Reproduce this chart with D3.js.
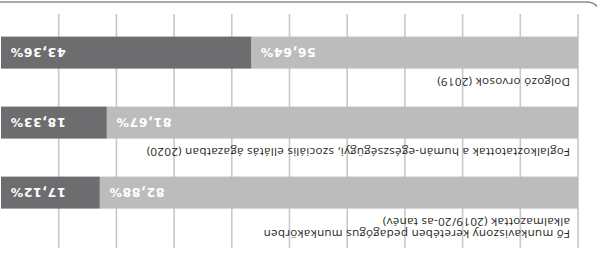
<!DOCTYPE html>
<html><head><meta charset="utf-8">
<script src="https://cdn.jsdelivr.net/npm/d3@7"></script>
<style>html,body{margin:0;padding:0;background:#fff}svg{display:block}</style>
</head><body>
<svg id="c" width="597" height="256"></svg>
<script>
const categories = [
  ["Fő munkaviszony keretében pedagógus munkakörben", "alkalmazottak (2019/20-as tanév)"],
  ["Foglalkoztatottak a humán-egészségügyi, szociális ellátás ágazatban (2020)"],
  ["Dolgozó orvosok (2019)"]
];
const seriesLight = [82.88, 81.67, 56.64];
const seriesDark = [17.12, 18.33, 43.36];
const gridTicks = [0, 10, 20, 30, 40, 50, 60, 70, 80, 90];

const W = 597, H = 256;
const svg = d3.select("#c");
// whole chart is shown rotated by 180 degrees, as in the reference
const root = svg.append("g").attr("transform", `rotate(180 ${W/2} ${H/2})`);

const x = d3.scaleLinear().domain([0, 100]).range([19, 596]);
const y = d3.scaleBand().domain(d3.range(categories.length)).range([47.4, 219.4]).paddingInner(38/70).paddingOuter(0);

// frame (rounded corner)
root.append("rect").attr("x", -4).attr("y", -60).attr("width", 700).attr("height", 314)
  .attr("rx", 14).attr("fill", "none").attr("stroke", "#8a8a8a").attr("stroke-width", 1.6);

// grid
root.append("g").selectAll("line").data(gridTicks).join("line")
  .attr("x1", d => x(d)).attr("x2", d => x(d)).attr("y1", 8).attr("y2", 242)
  .attr("stroke", "#c8c8c8").attr("stroke-width", 1.6);

const fmt = v => v.toFixed(2).replace(".", ",") + "%";
const bh = y.bandwidth();

const rows = categories.map((c, i) => ({c, i, a: seriesLight[i], b: seriesDark[i]}));
const g = root.append("g").selectAll("g").data(rows).join("g");

g.append("rect").attr("x", d => x(0)).attr("y", d => y(d.i)).attr("width", d => x(d.a) - x(0)).attr("height", bh).attr("fill", "#bcbcbc");
g.append("rect").attr("x", d => x(d.a)).attr("y", d => y(d.i)).attr("width", d => x(d.a + d.b) - x(d.a)).attr("height", bh).attr("fill", "#6d6d70");

const vstyle = s => s.attr("fill", "#fff").attr("font-family", "'DejaVu Sans', sans-serif").attr("font-weight", "bold")
  .attr("font-size", 12.5).attr("letter-spacing", 0.6).attr("text-anchor", "end").attr("dy", "0.36em");
g.append("text").attr("x", d => x(d.a) - 9).attr("y", d => y(d.i) + bh/2).text(d => fmt(d.a)).call(vstyle);
g.append("text").attr("x", d => x(d.a + d.b) - 9).attr("y", d => y(d.i) + bh/2).text(d => fmt(d.b)).call(vstyle);

g.append("text").attr("font-family", "'Open Sans', sans-serif").attr("font-size", 11.6).attr("letter-spacing", 0.3).attr("fill", "#231f20")
  .each(function(d) {
    const t = d3.select(this);
    const n = d.c.length;
    d.c.forEach((line, k) => {
      t.append("tspan").attr("x", x(0) + 8).attr("y", y(d.i) - 9 - (n - 1 - k) * 12).text(line);
    });
  });
</script>
</body></html>
